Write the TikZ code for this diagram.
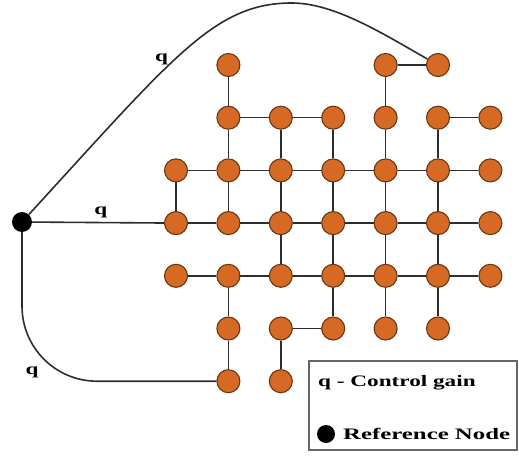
\documentclass[tikz,border=0pt]{standalone}
\usepackage{fontspec}
\newfontfamily\gainfont[FakeStretch=1.45]{Liberation Serif}
\newfontfamily\widefont[FakeStretch=1.55]{Liberation Serif}
\definecolor{agentfill}{RGB}{214,106,36}
\definecolor{agentline}{RGB}{105,55,18}
\definecolor{linkgray}{RGB}{45,45,45}

\begin{document}
\begin{tikzpicture}[
        x=1pt, y=-1pt,
        agent/.style={draw=agentline, fill=agentfill, circle, line width=1.1pt, minimum size=23pt, inner sep=0pt},
        refnode/.style={fill=black, circle, minimum size=20pt, inner sep=0pt},
        link/.style={draw=linkgray, line width=1.6pt},
        gain/.style={font=\gainfont\bfseries\fontsize{16}{19}\selectfont, inner sep=0pt}
    ]
    \useasboundingbox (0,0) rectangle (519,457);

    % agents, column/row
    \foreach \col/\row in {1/0,4/0,5/0,
                           1/1,2/1,3/1,4/1,5/1,6/1,
                           0/2,1/2,2/2,3/2,4/2,5/2,6/2,
                           0/3,1/3,2/3,3/3,4/3,5/3,6/3,
                           0/4,1/4,2/4,3/4,4/4,5/4,6/4,
                           1/5,2/5,3/5,4/5,5/5,
                           1/6,2/6}
        \node[agent] (n-\col-\row) at (176+52.4*\col, 65+52.7*\row) {};

    % horizontal links
    \draw[link] (n-4-0) -- (n-5-0);
    \draw[link] (n-1-1) -- (n-2-1) -- (n-3-1);
    \draw[link] (n-5-1) -- (n-6-1);
    \draw[link] (n-0-2) -- (n-1-2) -- (n-2-2) -- (n-3-2) -- (n-4-2) -- (n-5-2) -- (n-6-2);
    \draw[link] (n-0-3) -- (n-1-3) -- (n-2-3) -- (n-3-3) -- (n-4-3) -- (n-5-3) -- (n-6-3);
    \draw[link] (n-0-4) -- (n-1-4) -- (n-2-4) -- (n-3-4) -- (n-4-4) -- (n-5-4) -- (n-6-4);
    \draw[link] (n-2-5) -- (n-3-5);

    % vertical links
    \draw[link] (n-0-2) -- (n-0-3);
    \draw[link] (n-1-0) -- (n-1-1) -- (n-1-2) -- (n-1-3);
    \draw[link] (n-1-4) -- (n-1-5) -- (n-1-6);
    \draw[link] (n-2-1) -- (n-2-2) -- (n-2-3) -- (n-2-4);
    \draw[link] (n-2-5) -- (n-2-6);
    \draw[link] (n-3-1) -- (n-3-2) -- (n-3-3) -- (n-3-4) -- (n-3-5);
    \draw[link] (n-4-0) -- (n-4-1) -- (n-4-2) -- (n-4-3) -- (n-4-4) -- (n-4-5);
    \draw[link] (n-5-1) -- (n-5-2) -- (n-5-3) -- (n-5-4) -- (n-5-5);

    % reference node and pinned agents
    \node[refnode] (R) at (22,222) {};
    \coordinate (peak) at (292,3);
    \draw[link] (R) .. controls (175,55) and (215,3) .. node[gain, pos=0.45, left=6pt] {q} (peak)
        .. controls (335,3) and (385,35) .. (n-5-0);
    \draw[link] (R) -- node[gain, pos=0.52, above=4pt] {q} (n-0-3);
    \draw[link, rounded corners=75pt] (R) |- node[gain, pos=0.5, xshift=10pt, yshift=9pt] {q} (n-1-6);

    % legend
    \node[draw=gray!80!black, line width=1.5pt, minimum width=208pt, minimum height=89pt, inner sep=0pt] (legend) at (413,405.5) {};
    \node[gain, anchor=west] (gaintext) at (318,383) {q - Control gain};
    \node[refnode, minimum size=18pt] (legdot) at (326,434) {};
    \node[gain, font=\widefont\bfseries\fontsize{16}{19}\selectfont, anchor=west] (reftext) at (343,434) {Reference Node};
\end{tikzpicture}
\end{document}
